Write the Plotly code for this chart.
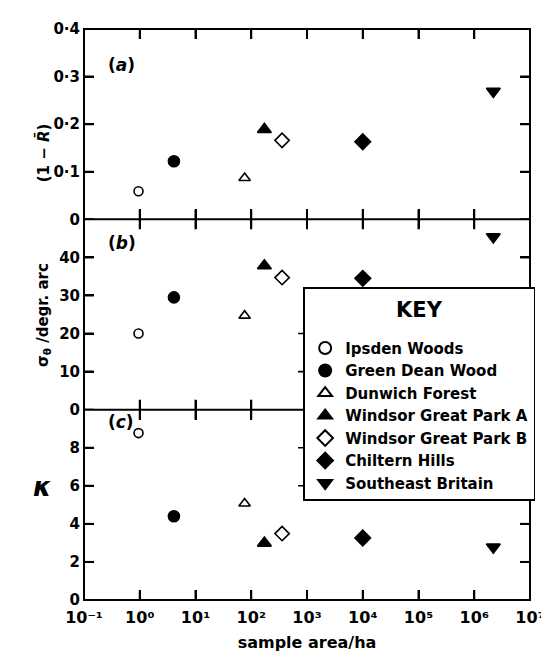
import plotly.graph_objects as go
from plotly.subplots import make_subplots

sites = ["Ipsden Woods", "Green Dean Wood", "Dunwich Forest", "Windsor Great Park A",
         "Windsor Great Park B", "Chiltern Hills", "Southeast Britain"]
area_ha = [0.95, 4.1, 76, 172, 357, 1.0e4, 2.2e6]
one_minus_R = [0.059, 0.122, 0.087, 0.189, 0.166, 0.163, 0.269]
sigma_theta = [20.0, 29.5, 24.7, 37.8, 34.7, 34.5, 45.4]
kappa = [8.77, 4.40, 5.07, 2.99, 3.49, 3.26, 2.78]

symbols = ["circle-open", "circle", "triangle-up-open", "triangle-up",
           "diamond-open", "diamond", "triangle-down"]
sizes = [9, 11, 10, 12, 11, 12, 12]

SUP = {"-": "\u207b", "0": "\u2070", "1": "\u00b9", "2": "\u00b2", "3": "\u00b3", "4": "\u2074",
       "5": "\u2075", "6": "\u2076", "7": "\u2077"}
x_tickvals = [10.0 ** k for k in range(-1, 8)]
x_ticktext = ["10" + "".join(SUP[c] for c in str(k)) for k in range(-1, 8)]
a_tickvals = [0, 0.1, 0.2, 0.3, 0.4]
a_ticktext = ["0", "0\u00b71", "0\u00b72", "0\u00b73", "0\u00b74"]
b_tickvals = [0, 10, 20, 30, 40]
c_tickvals = [0, 2, 4, 6, 8]

FONT = "DejaVu Sans"
W = "bold"
CLEAR = "rgba(0,0,0,0)"

fig = make_subplots(rows=3, cols=1, vertical_spacing=0)

for i, name in enumerate(sites):
    for row, vals in ((1, one_minus_R), (2, sigma_theta), (3, kappa)):
        fig.add_trace(go.Scatter(
            x=[area_ha[i]], y=[vals[i]], mode="markers", name=name,
            legendgroup=name, showlegend=(row == 1),
            marker=dict(symbol=symbols[i], size=sizes[i], color="black",
                        line=dict(color="black", width=1.6)),
        ), row=row, col=1)

axis_common = dict(showline=True, linecolor=CLEAR, linewidth=1, mirror="ticks",
                   ticks="inside", ticklen=10, tickwidth=2, tickcolor="black",
                   showgrid=False, zeroline=False,
                   tickfont=dict(family=FONT, size=15, color="black", weight=W))

for r in (1, 2, 3):
    fig.update_xaxes(type="log", range=[-1, 7], tickvals=x_tickvals, ticktext=x_ticktext,
                     showticklabels=(r == 3), row=r, col=1, **axis_common)
fig.update_xaxes(tickfont=dict(family=FONT, size=16, color="black", weight=W),
                 ticklabelstandoff=3, row=3, col=1)

fig.update_yaxes(range=[0, 0.4], tickvals=a_tickvals, ticktext=a_ticktext, row=1, col=1, **axis_common)
fig.update_yaxes(range=[0, 50], tickvals=b_tickvals, row=2, col=1, **axis_common)
fig.update_yaxes(range=[0, 10], tickvals=c_tickvals, row=3, col=1, **axis_common)

fig.update_layout(
    yaxis=dict(domain=[2 / 3, 1]),
    yaxis2=dict(domain=[1 / 3, 2 / 3]),
    yaxis3=dict(domain=[0, 1 / 3]),
    xaxis3=dict(title=dict(text="sample area/ha",
                           font=dict(family=FONT, size=16, color="black", weight=W),
                           standoff=10)),
)

BLK = dict(color="black", width=2)
# frame of the three panels
shapes = [dict(type="rect", xref="paper", yref="paper", x0=0, x1=1, y0=0, y1=1,
               line=BLK, layer="above")]
for yb in (1 / 3, 2 / 3):
    shapes.append(dict(type="line", xref="paper", yref="paper", x0=0, x1=1, y0=yb, y1=yb,
                       line=BLK, layer="above"))

# inward tick marks on every side of every panel
TX = 10 / 458.0   # tick length as fraction of plot width
TY = 10 / 191.0   # tick length as fraction of one panel height
for r, (ya, yvals) in enumerate((("y", a_tickvals), ("y2", b_tickvals), ("y3", c_tickvals))):
    xa = "x" if r == 0 else "x%d" % (r + 1)
    for v in x_tickvals:
        for y0, y1 in ((0, TY), (1, 1 - TY)):
            shapes.append(dict(type="line", xref=xa, yref=ya + " domain", x0=v, x1=v,
                               y0=y0, y1=y1, line=BLK, layer="above"))
    for v in yvals:
        for x0, x1 in ((0, TX), (1, 1 - TX)):
            shapes.append(dict(type="line", xref=xa + " domain", yref=ya, x0=x0, x1=x1,
                               y0=v, y1=v, line=BLK, layer="above"))

# short ticks on the left edge of the key box
for yref, vals in (("y2", b_tickvals[1:3]), ("y3", c_tickvals[3:5])):
    for v in vals:
        shapes.append(dict(type="line", xref="paper", yref=yref, x0=0.48, x1=0.497, y0=v, y1=v,
                           line=dict(color="black", width=1.6), layer="above"))
fig.update_layout(shapes=shapes)

ann = []
for txt, y in (("(<i>a</i>)", 0.958), ("(<i>b</i>)", 0.625), ("(<i>c</i>)", 0.29)):
    ann.append(dict(text=txt, xref="paper", yref="paper", x=0.05, y=y, showarrow=False,
                    font=dict(family=FONT, size=17, color="black", weight=W)))
ann.append(dict(text="(1 \u2212 <i>R\u0304</i>)", xref="paper", yref="paper", x=-0.118, y=0.838,
                textangle=-90, showarrow=False, font=dict(family=FONT, size=15, color="black", weight=W)))
ann.append(dict(text="\u03c3<sub>\u03b8</sub> /degr. arc", xref="paper", yref="paper", x=-0.118, y=0.499,
                textangle=-90, showarrow=False, font=dict(family=FONT, size=15, color="black", weight=W)))
ann.append(dict(text="<i>\u03ba</i>", xref="paper", yref="paper", x=-0.118, y=0.169,
                showarrow=False, font=dict(family=FONT, size=26, color="black", weight=W)))
fig.update_layout(annotations=ann)

fig.update_layout(
    width=549, height=660,
    margin=dict(l=76, r=15, t=19, b=68),
    paper_bgcolor="white", plot_bgcolor="white",
    font=dict(family=FONT, color="black"),
    legend=dict(x=1.012, xanchor="right", y=0.548, yanchor="top",
                bgcolor="white", bordercolor="black", borderwidth=1.8,
                font=dict(family=FONT, size=15, color="black", weight=W),
                title=dict(text="<span style='font-size:4px'> </span><br>"
                                "<span style='font-size:21px'>KEY</span><br> ",
                           side="top center",
                           font=dict(family=FONT, size=11, color="black", weight=W)),
                itemsizing="constant", tracegroupgap=0),
)

fig.write_html("out.html")
